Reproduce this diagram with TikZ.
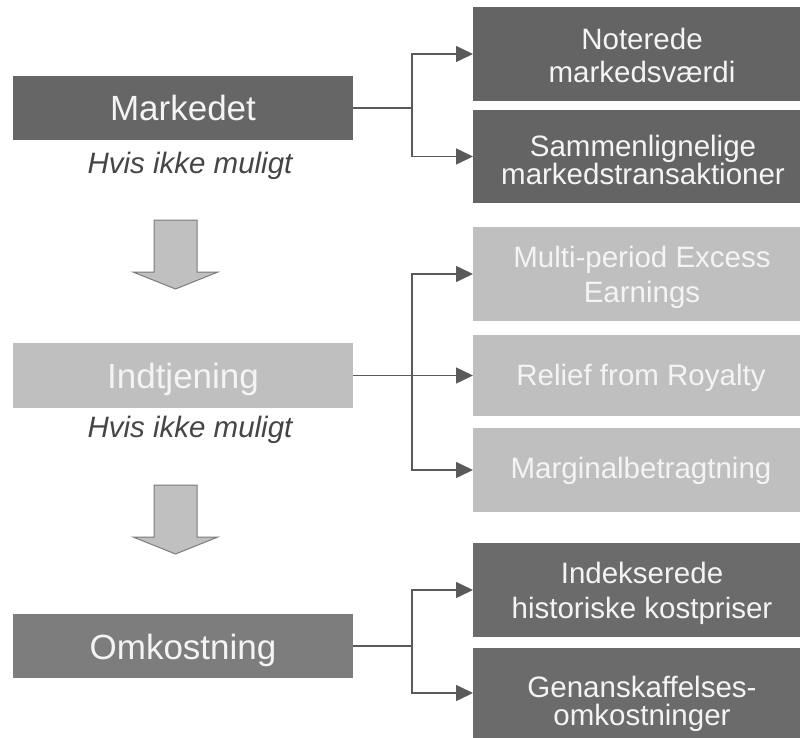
\documentclass[tikz,border=0pt]{standalone}
\usepackage{fontspec}
\setmainfont{Liberation Sans}
\usetikzlibrary{arrows.meta}
\definecolor{dkbox}{HTML}{646464}
\definecolor{dkbox2}{HTML}{6B6B6B}
\definecolor{mkbox}{HTML}{666666}
\definecolor{omkbox}{HTML}{7D7D7D}
\definecolor{ltbox}{HTML}{BFBFBF}
\definecolor{txtlt}{HTML}{F4F4F4}
\definecolor{connc}{HTML}{5A5A5A}
\definecolor{hvis}{HTML}{454545}
\definecolor{arrfill}{HTML}{C0C0C0}
\definecolor{arrdraw}{HTML}{7A7A7A}
\tikzset{
  boxbase/.style={rectangle, draw=none, inner sep=0pt, outer sep=0pt},
  leftbox/.style={boxbase, minimum width=340pt},
  rightbox/.style={boxbase, minimum width=327pt},
  bigtxt/.style={anchor=base, inner sep=0pt, text=txtlt, font=\fontsize{35}{40}\selectfont},
  smtxt/.style={anchor=base, inner sep=0pt, text=txtlt, align=center, font=\fontsize{29.5}{33}\selectfont},
  hvistxt/.style={anchor=base, inner sep=0pt, text=hvis, font=\fontsize{29.5}{33}\selectfont\itshape},
  conn/.style={draw=connc, line width=1.5pt, -{Triangle[length=17pt,width=16pt]}},
  connplain/.style={draw=connc, line width=1.5pt},
  blockarrow/.style={fill=arrfill, draw=arrdraw, line width=1pt, line join=miter}
}
\begin{document}
\begin{tikzpicture}[x=1pt, y=-1pt]
\useasboundingbox (0,0) rectangle (800,738);
% left boxes
\node[leftbox, fill=mkbox, minimum height=64pt] (mk) at (183,108) {};
\node[bigtxt] (mkt) at (183,121) {Markedet};
\node[hvistxt] (hv1) at (190,174) {Hvis ikke muligt};
\node[leftbox, fill=ltbox, minimum height=65pt] (ind) at (183,375.5) {};
\node[bigtxt] (indt) at (183,388.5) {Indtjening};
\node[hvistxt] (hv2) at (190,437) {Hvis ikke muligt};
\node[leftbox, fill=omkbox, minimum height=64pt] (omk) at (183,646) {};
\node[bigtxt] (omkt) at (183,659) {Omkostning};
% block arrows
\draw[blockarrow] (154,220) -- (197,220) -- (197,272) -- (218,272) -- (175.5,289) -- (133,272) -- (154,272) -- cycle;
\draw[blockarrow] (154,485) -- (197,485) -- (197,537) -- (218,537) -- (175.5,554) -- (133,537) -- (154,537) -- cycle;
% right boxes
\node[rightbox, fill=dkbox, minimum height=94pt] (b1) at (636.5,54) {};
\node[smtxt] (b1t) at (642,83) {Noterede\\markedsværdi};
\node[rightbox, fill=dkbox, minimum height=93pt] (b2) at (636.5,156.5) {};
\node[smtxt] (b2t) at (643,185) {Sammenlignelige\\[-5pt]markedstransaktioner};
\node[rightbox, fill=ltbox, minimum height=94pt] (b3) at (636.5,274) {};
\node[smtxt] (b3t) at (642,302) {Multi-period Excess\\[2pt]Earnings};
\node[rightbox, fill=ltbox, minimum height=81pt] (b4) at (636.5,375.5) {};
\node[smtxt] (b4t) at (641,385) {Relief from Royalty};
\node[rightbox, fill=ltbox, minimum height=84pt] (b5) at (636.5,470) {};
\node[smtxt] (b5t) at (641,478) {Marginalbetragtning};
\node[rightbox, fill=dkbox2, minimum height=94pt] (b6) at (636.5,590) {};
\node[smtxt] (b6t) at (642,618) {Indekserede\\[2pt]historiske kostpriser};
\node[rightbox, fill=dkbox2, minimum height=90pt] (b7) at (636.5,693) {};
\node[smtxt] (b7t) at (642,725) {Genanskaffelses-\\[-5pt]omkostninger};
% connectors
\coordinate (j1) at (412,108);
\coordinate (j2) at (412,375.5);
\coordinate (j3) at (412,646);
\draw[connplain] (mk.east) -- (j1);
\draw[conn] (j1) |- (b1.west);
\draw[conn] (j1) |- (b2.west);
\draw[conn] (ind.east) -- (b4.west);
\draw[conn] (j2) |- (b3.west);
\draw[conn] (j2) |- (b5.west);
\draw[connplain] (omk.east) -- (j3);
\draw[conn] (j3) |- (b6.west);
\draw[conn] (j3) |- (b7.west);
\end{tikzpicture}
\end{document}
